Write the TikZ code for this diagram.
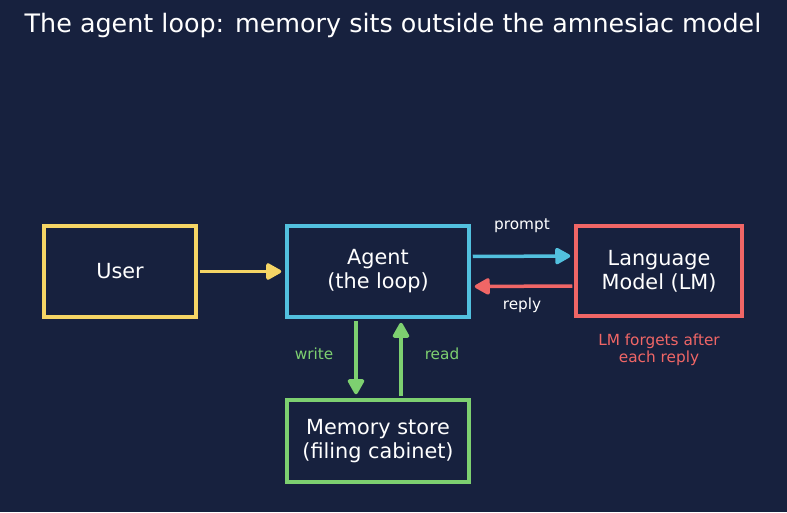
\documentclass[tikz,border=0pt]{standalone}
\usepackage{fontspec}
\setmainfont{DejaVu Sans}
\usetikzlibrary{arrows.meta}
\definecolor{bgnavy}{RGB}{23,33,62}
\definecolor{cuser}{RGB}{245,213,101}
\definecolor{cagent}{RGB}{82,192,222}
\definecolor{clm}{RGB}{240,102,102}
\definecolor{cmem}{RGB}{125,208,112}
\tikzset{
  box/.style={draw,line width=3.5pt,fill=bgnavy,text=white,align=center,inner sep=0pt,
    font=\fontsize{20.8}{24}\selectfont},
  flow/.style={line width=3.5pt,-{Triangle[length=17pt,width=18pt,round]}},
  lbl/.style={font=\fontsize{15.3}{17}\selectfont,align=center},
}
\begin{document}
\begin{tikzpicture}[x=1pt,y=1pt,yscale=-1]
\fill[bgnavy] (0,0) rectangle (787,512);
\useasboundingbox (0,0) rectangle (787,512);

% Title
\node (title) at (393,25) [text=white,font=\fontsize{25.4}{30}\selectfont] {The agent loop: memory sits outside the amnesiac model};

% Boxes
\node (user) at (120,271.5) [box,draw=cuser,minimum width=152pt,minimum height=91pt] {User};
\node (agent) at (378,271.5) [box,draw=cagent,minimum width=182pt,minimum height=91pt] {Agent\\(the loop)};
\node (lm) at (659,271) [box,draw=clm,minimum width=166pt,minimum height=90pt] {Language\\Model (LM)};
\node (mem) at (378,441) [box,draw=cmem,minimum width=182pt,minimum height=82pt] {Memory store\\(filing cabinet)};

% Arrows
\draw[flow,cuser,shorten <=2pt,shorten >=4pt] (user.east) -- (agent.west);
\draw[flow,cagent,shorten <=2pt,shorten >=4pt] ([yshift=-15pt]agent.east) -- ([yshift=-15pt]lm.west);
\draw[flow,clm,shorten <=2pt,shorten >=4pt] ([yshift=15pt]lm.west) -- ([yshift=15pt]agent.east);
\draw[flow,cmem,shorten <=2pt,shorten >=4pt] ([xshift=-22pt]agent.south) -- ([xshift=-22pt]mem.north);
\draw[flow,cmem,shorten <=2pt,shorten >=4pt] ([xshift=23pt]mem.north) -- ([xshift=23pt]agent.south);

% Text Node
\node (prompt) at (522,226) [lbl,text=white] {prompt};
\node (reply) at (522,305) [lbl,text=white] {reply};
\node (write) at (314,354) [lbl,text=cmem] {write};
\node (read) at (442,354) [lbl,text=cmem] {read};
\node (forget) at (659,349.5) [lbl,text=clm] {LM forgets after\\each reply};
\end{tikzpicture}
\end{document}
